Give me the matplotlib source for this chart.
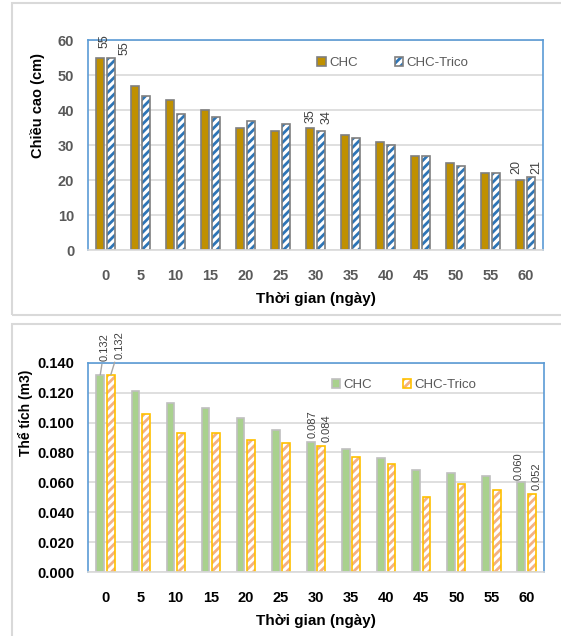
import matplotlib
matplotlib.use("Agg")
import matplotlib.pyplot as plt
from matplotlib.patches import Rectangle
from matplotlib.ticker import FormatStrFormatter
import numpy as np

plt.rcParams["font.family"] = ["Liberation Sans", "DejaVu Sans"]
plt.rcParams["hatch.linewidth"] = 2.0

DAYS = ["0", "5", "10", "15", "20", "25", "30", "35", "40", "45", "50", "55", "60"]
HEIGHT_CHC = [55, 47, 43, 40, 35, 34, 35, 33, 31, 27, 25, 22, 20]
HEIGHT_TRICO = [55, 44, 39, 38, 37, 36, 34, 32, 30, 27, 24, 22, 21]
VOLUME_CHC = [0.132, 0.121, 0.113, 0.110, 0.103, 0.095, 0.087, 0.082, 0.076,
              0.068, 0.066, 0.064, 0.060]
VOLUME_TRICO = [0.132, 0.106, 0.093, 0.093, 0.088, 0.086, 0.084, 0.077, 0.072,
                0.050, 0.059, 0.055, 0.052]
LABELLED = [0, 6, 12]

GRAY_TXT = "#595959"
LABEL_GRAY = "#404040"
GRID = "#D9D9D9"
BLUE_FRAME = "#5B9BD5"

W = 0.22
OFF = 0.15


def style_axes(ax, ylabel, ylabel_pos, ylabel_size, tick_color):
    ax.set_xlim(-0.5, 12.5)
    ax.set_xticks(np.arange(len(DAYS)))
    ax.set_xticklabels(DAYS)
    ax.tick_params(axis="x", length=0, pad=14, labelsize=10.5, labelcolor=tick_color)
    ax.tick_params(axis="y", length=0, pad=10, labelsize=10.5, labelcolor=tick_color)
    for lab in ax.get_xticklabels() + ax.get_yticklabels():
        lab.set_fontweight("bold")
    ax.yaxis.grid(True, color=GRID, linewidth=1.2)
    ax.set_axisbelow(True)
    for side in ("top", "left", "right"):
        ax.spines[side].set_color(BLUE_FRAME)
        ax.spines[side].set_linewidth(1.2)
    ax.spines["bottom"].set_color(GRID)
    ax.spines["bottom"].set_linewidth(1.2)
    ax.set_xlabel("Thời gian (ngày)", fontsize=11, fontweight="bold", labelpad=6)
    ax.set_ylabel(ylabel, fontsize=ylabel_size, fontweight="bold")
    ax.yaxis.set_label_coords(*ylabel_pos)


def draw_pair(ax, a, b, face_a, edge_a, hatch_col, edge_b):
    x = np.arange(len(DAYS))
    bars_a = ax.bar(x - OFF, a, W, color=face_a, edgecolor=edge_a, linewidth=1.2)
    hatch = ax.bar(x + OFF, b, W, color="white", edgecolor=hatch_col,
                   hatch="////", linewidth=0)
    frame = ax.bar(x + OFF, b, W, color="none", edgecolor=edge_b, linewidth=1.2)
    return bars_a, (hatch, frame)


def add_legend(ax, handles, anchor, spacing):
    leg = ax.legend(handles, ["CHC", "CHC-Trico"], ncol=2, loc="center",
                    bbox_to_anchor=anchor, frameon=False, fontsize=9.5,
                    handlelength=0.65, handleheight=0.65, handletextpad=0.25,
                    columnspacing=spacing)
    for t in leg.get_texts():
        t.set_color(GRAY_TXT)


fig = plt.figure(figsize=(5.61, 6.36), dpi=100)

# outer chart frames
fig.patches.append(Rectangle((0.0214, 0.5047), 1.0, 0.490, transform=fig.transFigure,
                             fill=False, edgecolor=GRID, linewidth=1.5))
fig.patches.append(Rectangle((0.0214, -0.05), 1.0, 0.541, transform=fig.transFigure,
                             fill=False, edgecolor=GRID, linewidth=1.5))

# top: height
ax1 = fig.add_axes([0.1569, 0.6069, 0.8110, 0.3302])
b1, t1 = draw_pair(ax1, HEIGHT_CHC, HEIGHT_TRICO, "#BF9000", "#7F7F7F",
                   "#2E75B6", "#7F7F7F")
ax1.set_ylim(0, 60)
ax1.set_yticks(range(0, 61, 10))
style_axes(ax1, "Chiều cao (cm)", (-0.0945, 0.69), 10.5, GRAY_TXT)
# label offsets in points (dx, dy)
top_offsets = {(0, 0): (3, 7), (0, 1): (10, 2), (6, 0): (0, 3), (6, 1): (4, 5),
               (12, 0): (-2.5, 4), (12, 1): (4, 2)}
for i in LABELLED:
    for k, (vals, dx) in enumerate([(HEIGHT_CHC, -OFF), (HEIGHT_TRICO, OFF)]):
        ax1.annotate(str(vals[i]), (i + dx, vals[i]), xytext=top_offsets[(i, k)],
                     textcoords="offset points", rotation=90, ha="center",
                     va="bottom", fontsize=9, color=LABEL_GRAY, annotation_clip=False)
add_legend(ax1, [b1, t1], (0.670, 0.89), 2.8)

# bottom: volume
ax2 = fig.add_axes([0.1569, 0.1006, 0.8128, 0.3291])
b2, t2 = draw_pair(ax2, VOLUME_CHC, VOLUME_TRICO, "#A9D18E", "#BFBFBF",
                   "#F4B183", "#FFC000")
ax2.set_ylim(0, 0.14)
ax2.set_yticks(np.arange(0, 0.141, 0.02))
ax2.yaxis.set_major_formatter(FormatStrFormatter("%.3f"))
style_axes(ax2, "Thể tích (m3)", (-0.1206, 0.763), 10, "black")
bot_offsets = {(0, 0): (3, 9.5), (0, 1): (6.5, 11), (6, 0): (1, 2.5), (6, 1): (4, 3.5),
               (12, 0): (-2, 2), (12, 1): (3.5, 3)}
for i in LABELLED:
    for k, (vals, dx) in enumerate([(VOLUME_CHC, -OFF), (VOLUME_TRICO, OFF)]):
        arrow = None
        if i == 0:
            arrow = dict(arrowstyle="-", color="#A6A6A6", lw=1, shrinkA=0, shrinkB=0)
        ax2.annotate(f"{vals[i]:.3f}", (i + dx, vals[i]), xytext=bot_offsets[(i, k)],
                     textcoords="offset points", rotation=90, ha="center",
                     va="bottom", fontsize=8, color=LABEL_GRAY,
                     arrowprops=arrow, annotation_clip=False)
add_legend(ax2, [b2, t2], (0.693, 0.894), 2.3)

fig.savefig("out.png", dpi=100)
